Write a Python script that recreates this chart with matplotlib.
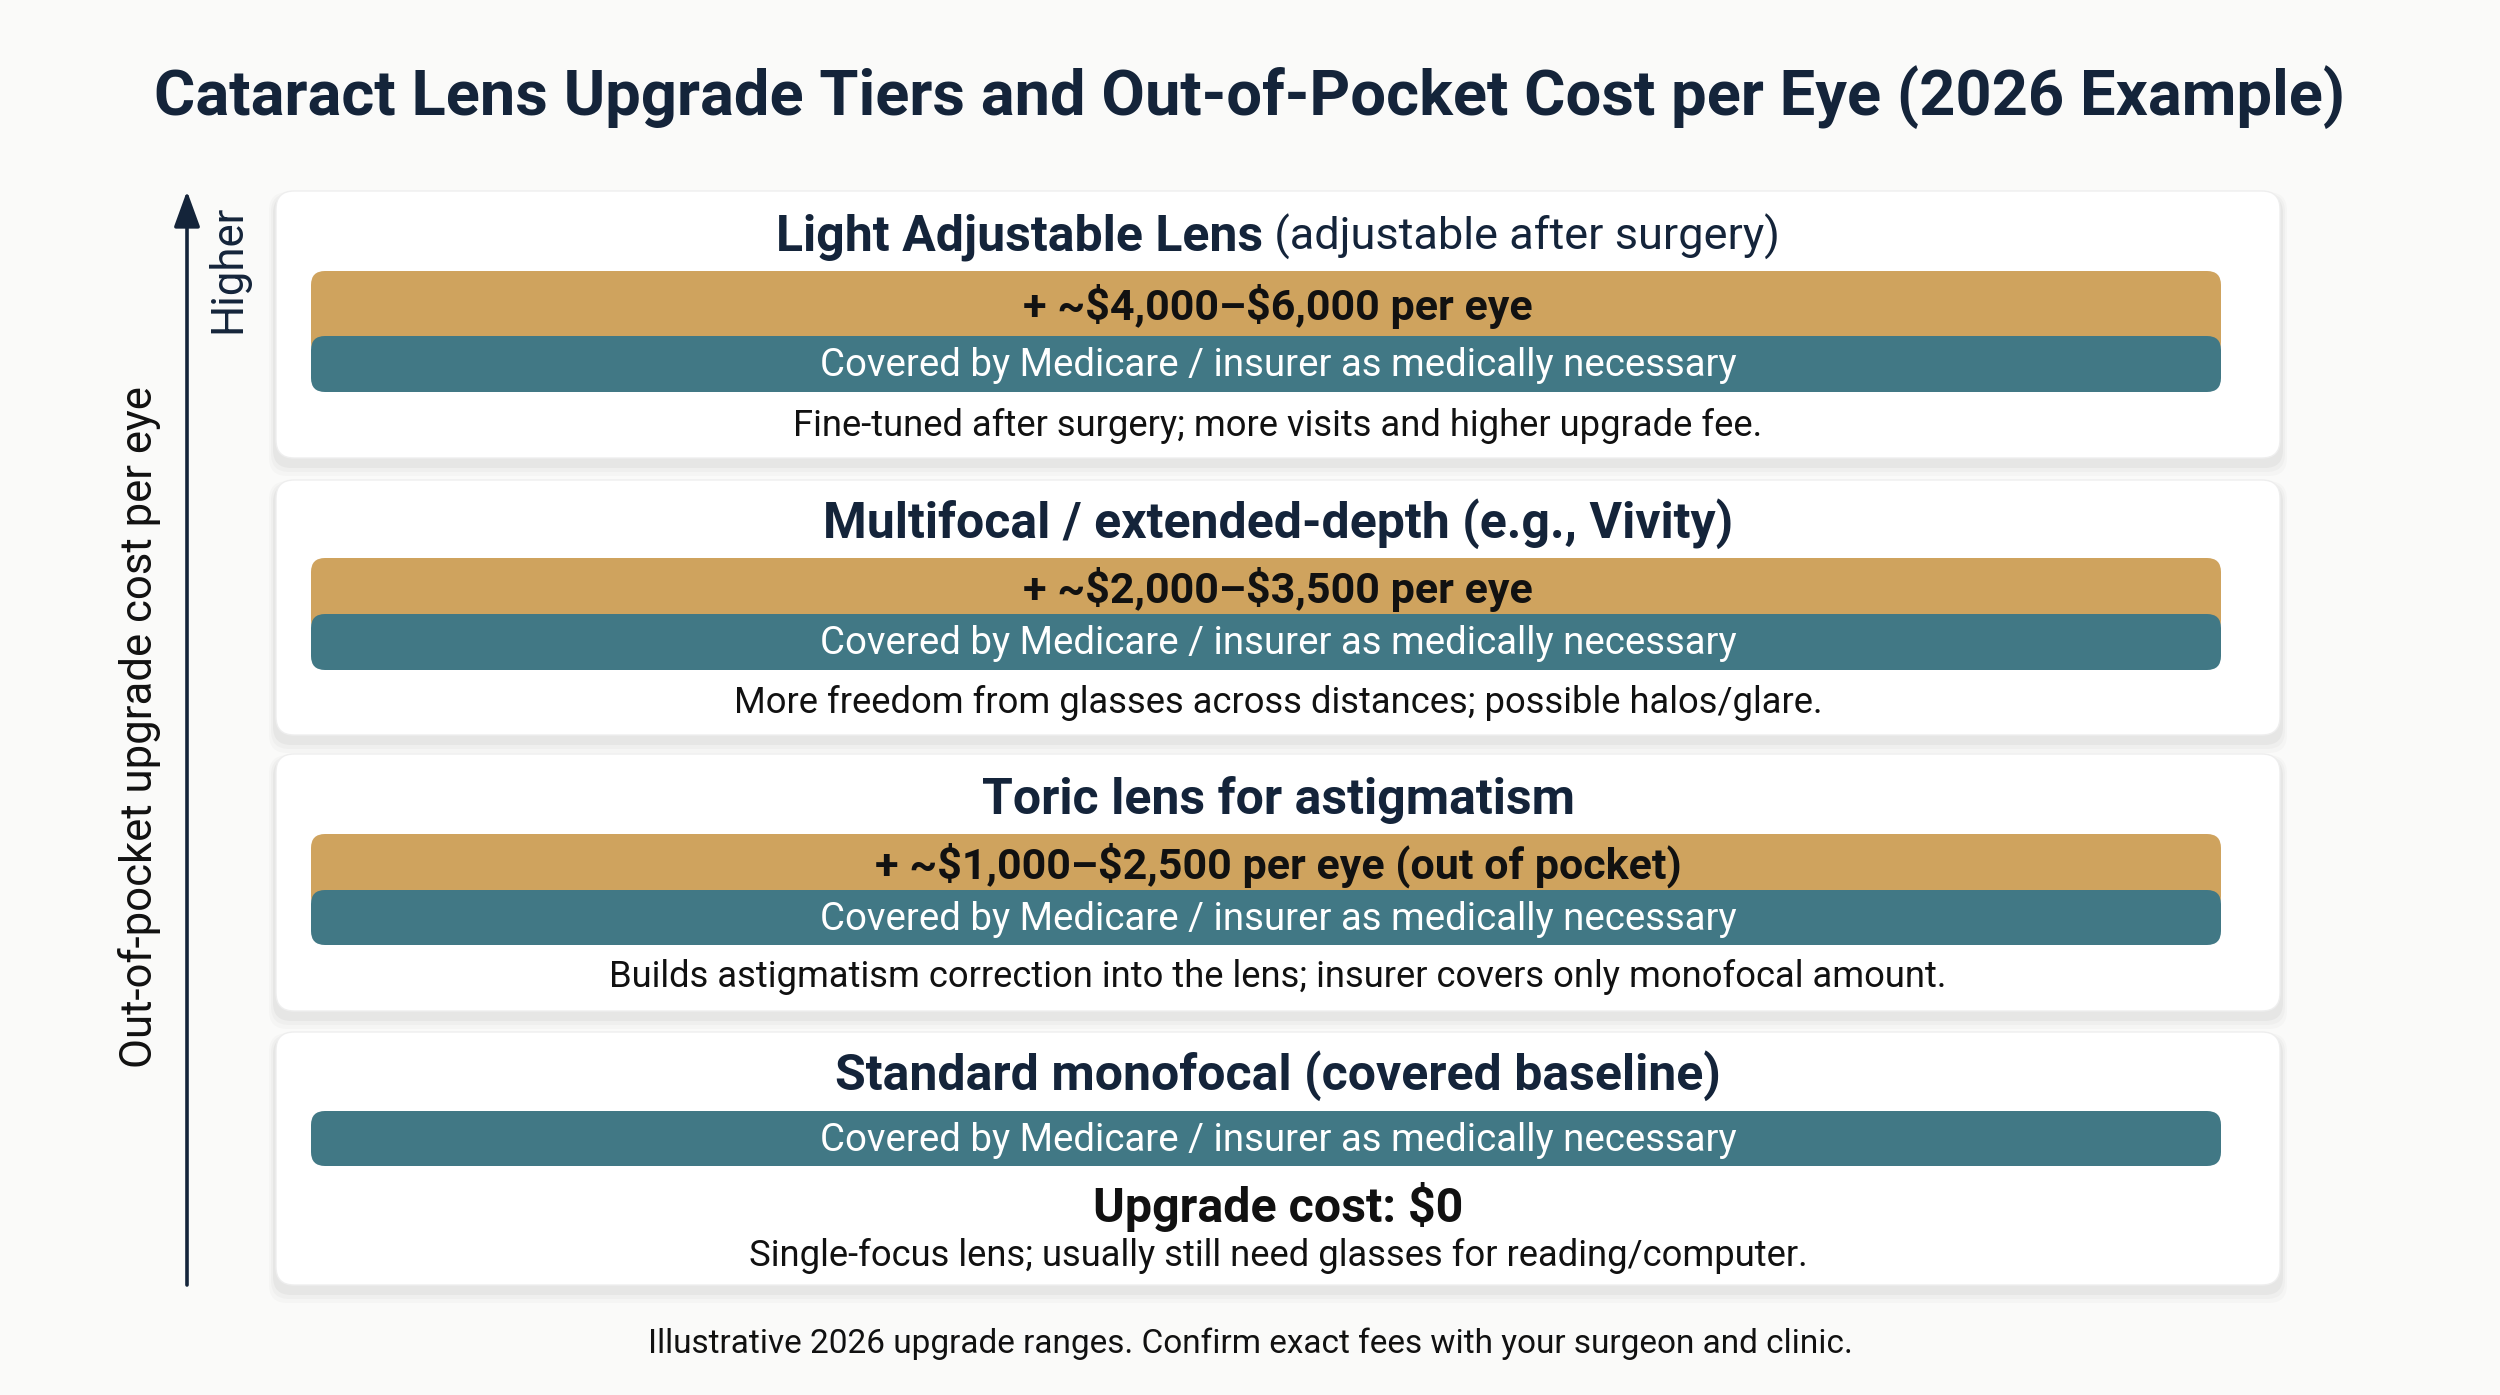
import matplotlib.pyplot as plt
from matplotlib.patches import FancyBboxPatch

# Tier data (top tier first)
tier_names = ["Light Adjustable Lens", "Multifocal / extended-depth (e.g., Vivity)",
              "Toric lens for astigmatism", "Standard monofocal (covered baseline)"]
tier_notes = [" (adjustable after surgery)", "", "", ""]
cost_labels = ["+ ~$4,000–$6,000 per eye", "+ ~$2,000–$3,500 per eye",
               "+ ~$1,000–$2,500 per eye (out of pocket)", None]
coverage_text = "Covered by Medicare / insurer as medically necessary"
descriptions = ["Fine-tuned after surgery; more visits and higher upgrade fee.",
                "More freedom from glasses across distances; possible halos/glare.",
                "Builds astigmatism correction into the lens; insurer covers only monofocal amount.",
                "Single-focus lens; usually still need glasses for reading/computer."]
baseline_cost = "Upgrade cost: $0"

title = "Cataract Lens Upgrade Tiers and Out-of-Pocket Cost per Eye (2026 Example)"
footer = "Illustrative 2026 upgrade ranges. Confirm exact fees with your surgeon and clinic."
axis_label = "Out-of-pocket upgrade cost per eye"

# layout in pixels
W, H = 2500, 1395
NAVY = "#14243a"
GOLD = "#cfa35e"
TEAL = "#417885"
BG = "#fafaf9"
FONT = "Roboto"

card_top = [191, 480, 754, 1032]
card_bot = [458, 735, 1011, 1285]
gold_top = [271, 558, 834, None]
teal_top = [336, 614, 890, 1111]
teal_bot = [392, 670, 945, 1166]
head_y = [237, 524, 800, 1076]
desc_y = [426, 703, 977, 1256]
card_x0, card_x1 = 276, 2280
bar_x0, bar_x1 = 311, 2221
cx = (card_x0 + card_x1) / 2

fig = plt.figure(figsize=(W / 100, H / 100), dpi=100)
fig.patch.set_facecolor(BG)
ax = fig.add_axes([0, 0, 1, 1])
ax.set_xlim(0, W)
ax.set_ylim(H, 0)
ax.axis("off")


def rbox(x0, y0, x1, y1, r, **kw):
    p = FancyBboxPatch((x0 + r, y0 + r), (x1 - x0) - 2 * r, (y1 - y0) - 2 * r,
                       boxstyle=f"round,pad={r}", **kw)
    ax.add_patch(p)
    return p


fig.text(1250 / W, 1 - 97 / H, title, ha="center", va="center", fontsize=45.5,
         fontweight="bold", color=NAVY, family=FONT)

for i in range(4):
    t, b = card_top[i], card_bot[i]
    # soft shadow
    for k, a in enumerate([0.02, 0.025, 0.035]):
        off = 14 - 4 * k
        rbox(card_x0 - off / 2, t - off / 3 + 6, card_x1 + off / 2, b + off + 4, 18,
             facecolor="#000000", edgecolor="none", alpha=a, zorder=1)
    rbox(card_x0, t, card_x1, b, 18, facecolor="white", edgecolor="#eeeeee",
         linewidth=1, zorder=2)

    if cost_labels[i] is not None:
        rbox(bar_x0, gold_top[i], bar_x1, teal_top[i] + 20, 14, facecolor=GOLD,
             edgecolor="none", zorder=3)
        ax.text(cx, (gold_top[i] + teal_top[i]) / 2 + 3, cost_labels[i], ha="center",
                va="center", fontsize=31, fontweight="bold", color="#111111",
                family=FONT, zorder=5, parse_math=False)
    else:
        ax.text(cx, 1207, baseline_cost, ha="center", va="center",
                fontsize=34.8, fontweight="bold", color="#111111", family=FONT,
                zorder=5, parse_math=False)

    rbox(bar_x0, teal_top[i], bar_x1, teal_bot[i], 14, facecolor=TEAL,
         edgecolor="none", zorder=4)
    ax.text(cx, (teal_top[i] + teal_bot[i]) / 2 + 2, coverage_text, ha="center",
            va="center", fontsize=27.6, color="white", family=FONT, zorder=5)

    # header (bold name + optional regular note)
    hb = ax.text(cx, head_y[i], tier_names[i], ha="left", va="center", fontsize=36,
                 fontweight="bold", color=NAVY, family=FONT, zorder=5)
    hn = ax.text(cx, head_y[i], tier_notes[i], ha="left", va="center", fontsize=32.5,
                 color=NAVY, family=FONT, zorder=5)
    fig.canvas.draw()
    r = fig.canvas.get_renderer()
    wb = hb.get_window_extent(r).width
    wn = hn.get_window_extent(r).width if tier_notes[i] else 0
    x_start = cx - (wb + wn) / 2
    hb.set_x(x_start)
    hn.set_x(x_start + wb)

    ax.text(cx, desc_y[i], descriptions[i], ha="center", va="center", fontsize=26.2,
            color="#111111", family=FONT, zorder=5)

# vertical axis arrow
ax.annotate("", xy=(187, 191), xytext=(187, 1285),
            arrowprops=dict(arrowstyle="-|>,head_width=0.8,head_length=2.2",
                            color=NAVY, lw=2.6, shrinkA=0, shrinkB=0))
ax.text(228, 269, "Higher", rotation=90, ha="center", va="center", fontsize=31.5,
        color=NAVY, family=FONT)
ax.text(140, 727, axis_label, rotation=90, ha="center", va="center", fontsize=31.5,
        color="#111111", family=FONT)

fig.text(1250 / W, 1 - 1344 / H, footer, ha="center", va="center", fontsize=24,
         color="#111111", family=FONT)

fig.savefig("out.png", dpi=100, facecolor=BG)
